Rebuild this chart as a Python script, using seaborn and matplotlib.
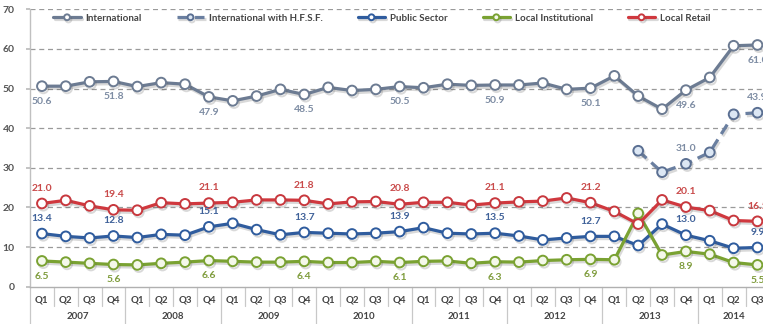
import numpy as np
import pandas as pd
import matplotlib
matplotlib.use("Agg")
import matplotlib.pyplot as plt
import matplotlib.patheffects as pe
import matplotlib.transforms as mtransforms
import seaborn as sns

years = ["2007", "2008", "2009", "2010", "2011", "2012", "2013", "2014"]
quarters = ["Q1", "Q2", "Q3", "Q4"]
periods = [f"{y} {q}" for y in years for q in quarters][:31]

international = [50.6, 50.6, 51.7, 51.8, 50.5, 51.5, 51.1, 47.9, 46.9, 48.1,
                 49.8, 48.5, 50.3, 49.5, 49.8, 50.5, 50.2, 51.1, 50.8, 50.9,
                 50.9, 51.4, 49.8, 50.1, 53.2, 48.1, 44.8, 49.6, 52.8, 60.8, 61.0]
hfsf = [np.nan] * 25 + [34.3, 28.9, 31.0, 33.9, 43.5, 43.9]
public_sector = [13.4, 12.7, 12.3, 12.8, 12.4, 13.2, 13.0, 15.1, 16.0, 14.4,
                 13.1, 13.7, 13.5, 13.3, 13.5, 13.9, 14.9, 13.5, 13.3, 13.5,
                 12.8, 11.8, 12.3, 12.7, 12.7, 10.4, 15.8, 13.0, 11.6, 9.7, 9.9]
local_institutional = [6.5, 6.2, 5.9, 5.6, 5.5, 5.9, 6.2, 6.6, 6.4, 6.2,
                       6.2, 6.4, 6.1, 6.1, 6.4, 6.1, 6.4, 6.5, 5.9, 6.3,
                       6.2, 6.6, 6.8, 6.9, 6.8, 18.5, 8.0, 8.9, 8.2, 6.1, 5.5]
local_retail = [21.0, 21.8, 20.4, 19.4, 19.3, 21.2, 20.9, 21.1, 21.3, 21.9,
                21.9, 21.8, 20.9, 21.4, 21.5, 20.8, 21.3, 21.3, 20.6, 21.1,
                21.4, 21.6, 22.4, 21.2, 19.0, 15.8, 21.9, 20.1, 19.2, 16.7, 16.5]

label_idx = [0, 3, 7, 11, 15, 19, 23, 27, 30]
hfsf_label_idx = [27, 30]

series = [
    # name, values, line color, marker edge, marker fill, label color, label dir, dashed
    ("International", international, "#6C7B92", "#6C7B92", "white", "#7D8CA3", -1, False),
    ("International with H.F.S.F.", hfsf, "#6A7FA0", "#5A6F92", "#DCE7F4", "#7D8CA3", 1, True),
    ("Public Sector", public_sector, "#2F5C9E", "#2F5C9E", "white", "#3F6199", 1, False),
    ("Local Institutional", local_institutional, "#7AA232", "#7AA232", "#F4F8EA", "#7F9C3C", -1, False),
    ("Local Retail", local_retail, "#D0383E", "#C8383E", "white", "#C94A4A", 1, False),
]

sns.set_theme(style="white")
plt.rcParams["font.family"] = ["Lato", "DejaVu Sans"]

fig = plt.figure(figsize=(7.63, 3.24), dpi=100)
ax = fig.add_axes([30 / 763, 37.3 / 324, 739.4 / 763, 277.4 / 324])

x = np.arange(len(periods))
shadow = [pe.SimpleLineShadow(offset=(1.0, -1.6), alpha=0.22, shadow_color="#555555"), pe.Normal()]

for name, vals, lc, mec, mfc, tc, d, dashed in series:
    df = pd.DataFrame({"x": x, "y": vals})
    sns.lineplot(data=df, x="x", y="y", ax=ax, color=lc, linewidth=2.3,
                 linestyle=(0, (3.5, 2)) if dashed else "-",
                 marker="o", markersize=7, markeredgewidth=1.4,
                 markeredgecolor=mec, markerfacecolor=mfc, label=name,
                 zorder=3, path_effects=shadow)
    idxs = hfsf_label_idx if dashed else label_idx
    for i in idxs:
        ax.annotate(f"{vals[i]:.1f}", (x[i], vals[i]), xytext=(0, 11 * d),
                    textcoords="offset points", ha="center", va="center",
                    fontsize=7.5, fontweight="bold", color=tc, zorder=5,
                    annotation_clip=False)

ax.set_xlim(-0.5, 30.5)
ax.set_ylim(0, 70)
ax.set_yticks(range(0, 71, 10))
ax.set_yticklabels([str(v) for v in range(0, 71, 10)], fontsize=7.5,
                   fontweight="bold", color="#555555")
for v in range(10, 71, 10):
    ax.axhline(v, color="#9A9A9A", linestyle=(0, (4, 3)), linewidth=0.9, zorder=1)
ax.tick_params(axis="y", length=3, pad=8, color="#BBBBBB", left=True)
ax.set_xlabel("")
ax.set_ylabel("")

for s in ["top", "right"]:
    ax.spines[s].set_visible(False)
ax.spines["left"].set_color("#C0C0C0")
ax.spines["bottom"].set_color("#B0B0B0")
ax.spines["left"].set_linewidth(1)
ax.spines["bottom"].set_linewidth(1)

ax.set_xticks(x)
ax.set_xticklabels([p.split()[1] for p in periods], fontsize=7, fontweight="bold",
                   color="#444444")
ax.tick_params(axis="x", length=0, pad=6)

trans = mtransforms.blended_transform_factory(ax.transData, ax.transAxes)
quarter_sep_len = 19 / 277.4
year_sep_len = 40 / 277.4
for k in range(31):
    xb = k - 0.5
    is_year = (k % 4 == 0)
    ax.plot([xb, xb], [0, -(year_sep_len if is_year else quarter_sep_len)],
            transform=trans, color="#C8C8C8", linewidth=0.9, clip_on=False)
for yi, yr in enumerate(years):
    start = yi * 4
    end = min(start + 3, 30)
    ax.text((start + end) / 2, -30 / 277.4, yr, transform=trans, ha="center",
            va="center", fontsize=7, fontweight="bold", color="#444444")

leg = ax.legend(loc="center", bbox_to_anchor=(0.476, 0.968), ncol=5, frameon=False,
                fontsize=7, handlelength=2.8, handletextpad=0.5, columnspacing=3.6,
                markerscale=0.6)
for t in leg.get_texts():
    t.set_color("#444444")
    t.set_fontweight("bold")

fig.savefig("out.png", dpi=100)
